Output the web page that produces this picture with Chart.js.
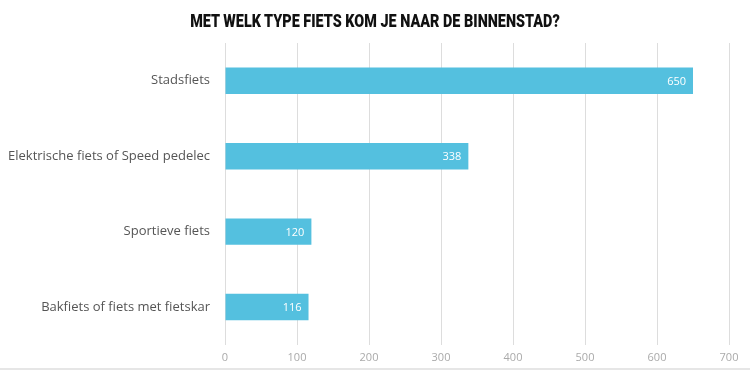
<!DOCTYPE html>
<html>
<head>
<meta charset="utf-8">
<script src="https://cdn.jsdelivr.net/npm/chart.js@4"></script>
<style>
  html, body { margin: 0; padding: 0; background: #fff; }
  #wrap { position: relative; width: 750px; height: 371px; overflow: hidden; }
  #title {
    position: absolute; left: 0; top: 10px; width: 750px; text-align: center;
    font-family: Roboto, sans-serif; font-weight: 900; font-size: 18px; color: #111;
    transform: scaleX(0.8); transform-origin: 375px 0;
  }
  #line { position: absolute; left: 0; top: 368px; width: 750px; height: 2px; background: #e6e6e6; }
</style>
</head>
<body>
<div id="wrap">
  <canvas id="chart" width="750" height="371"></canvas>
  <div id="title">MET WELK TYPE FIETS KOM JE NAAR DE BINNENSTAD?</div>
  <div id="line"></div>
</div>
<script>
const categories = [
  "Stadsfiets",
  "Elektrische fiets of Speed pedelec",
  "Sportieve fiets",
  "Bakfiets of fiets met fietskar"
];
const counts = [650, 338, 120, 116];
const xTicks = [0, 100, 200, 300, 400, 500, 600, 700];

// white value labels at the end of each bar
const barValues = {
  id: "barValues",
  afterDatasetsDraw(chart) {
    const ctx = chart.ctx;
    const meta = chart.getDatasetMeta(0);
    ctx.save();
    ctx.fillStyle = "#ffffff";
    ctx.font = "11px 'Open Sans'";
    ctx.textAlign = "right";
    ctx.textBaseline = "middle";
    meta.data.forEach((bar, i) => {
      ctx.fillText(String(counts[i]), bar.x - 7, bar.y + 1);
    });
    ctx.restore();
  }
};

new Chart(document.getElementById("chart").getContext("2d"), {
  type: "bar",
  data: {
    labels: categories,
    datasets: [{
      data: counts,
      backgroundColor: "#54c0df",
      borderWidth: 0,
      categoryPercentage: 1,
      barPercentage: 0.35
    }]
  },
  options: {
    indexAxis: "y",
    responsive: false,
    animation: false,
    layout: { padding: { top: 43, right: 21, bottom: 1, left: 0 } },
    plugins: {
      legend: { display: false },
      tooltip: { enabled: false }
    },
    scales: {
      x: {
        min: 0,
        max: 700,
        afterBuildTicks: (scale) => { scale.ticks = xTicks.map((v) => ({ value: v })); },
        grid: { color: "#dddddd", lineWidth: 1, drawTicks: false },
        border: { display: false },
        ticks: {
          color: "#aaaaaa",
          padding: 6,
          font: { family: "'Open Sans'", size: 11 }
        }
      },
      y: {
        grid: { display: false },
        border: { display: false },
        afterFit: (scale) => { scale.width = 225; },
        ticks: {
          color: "#555555",
          padding: 7,
          font: { family: "'Open Sans'", size: 13 }
        }
      }
    }
  },
  plugins: [barValues]
});
</script>
</body>
</html>
